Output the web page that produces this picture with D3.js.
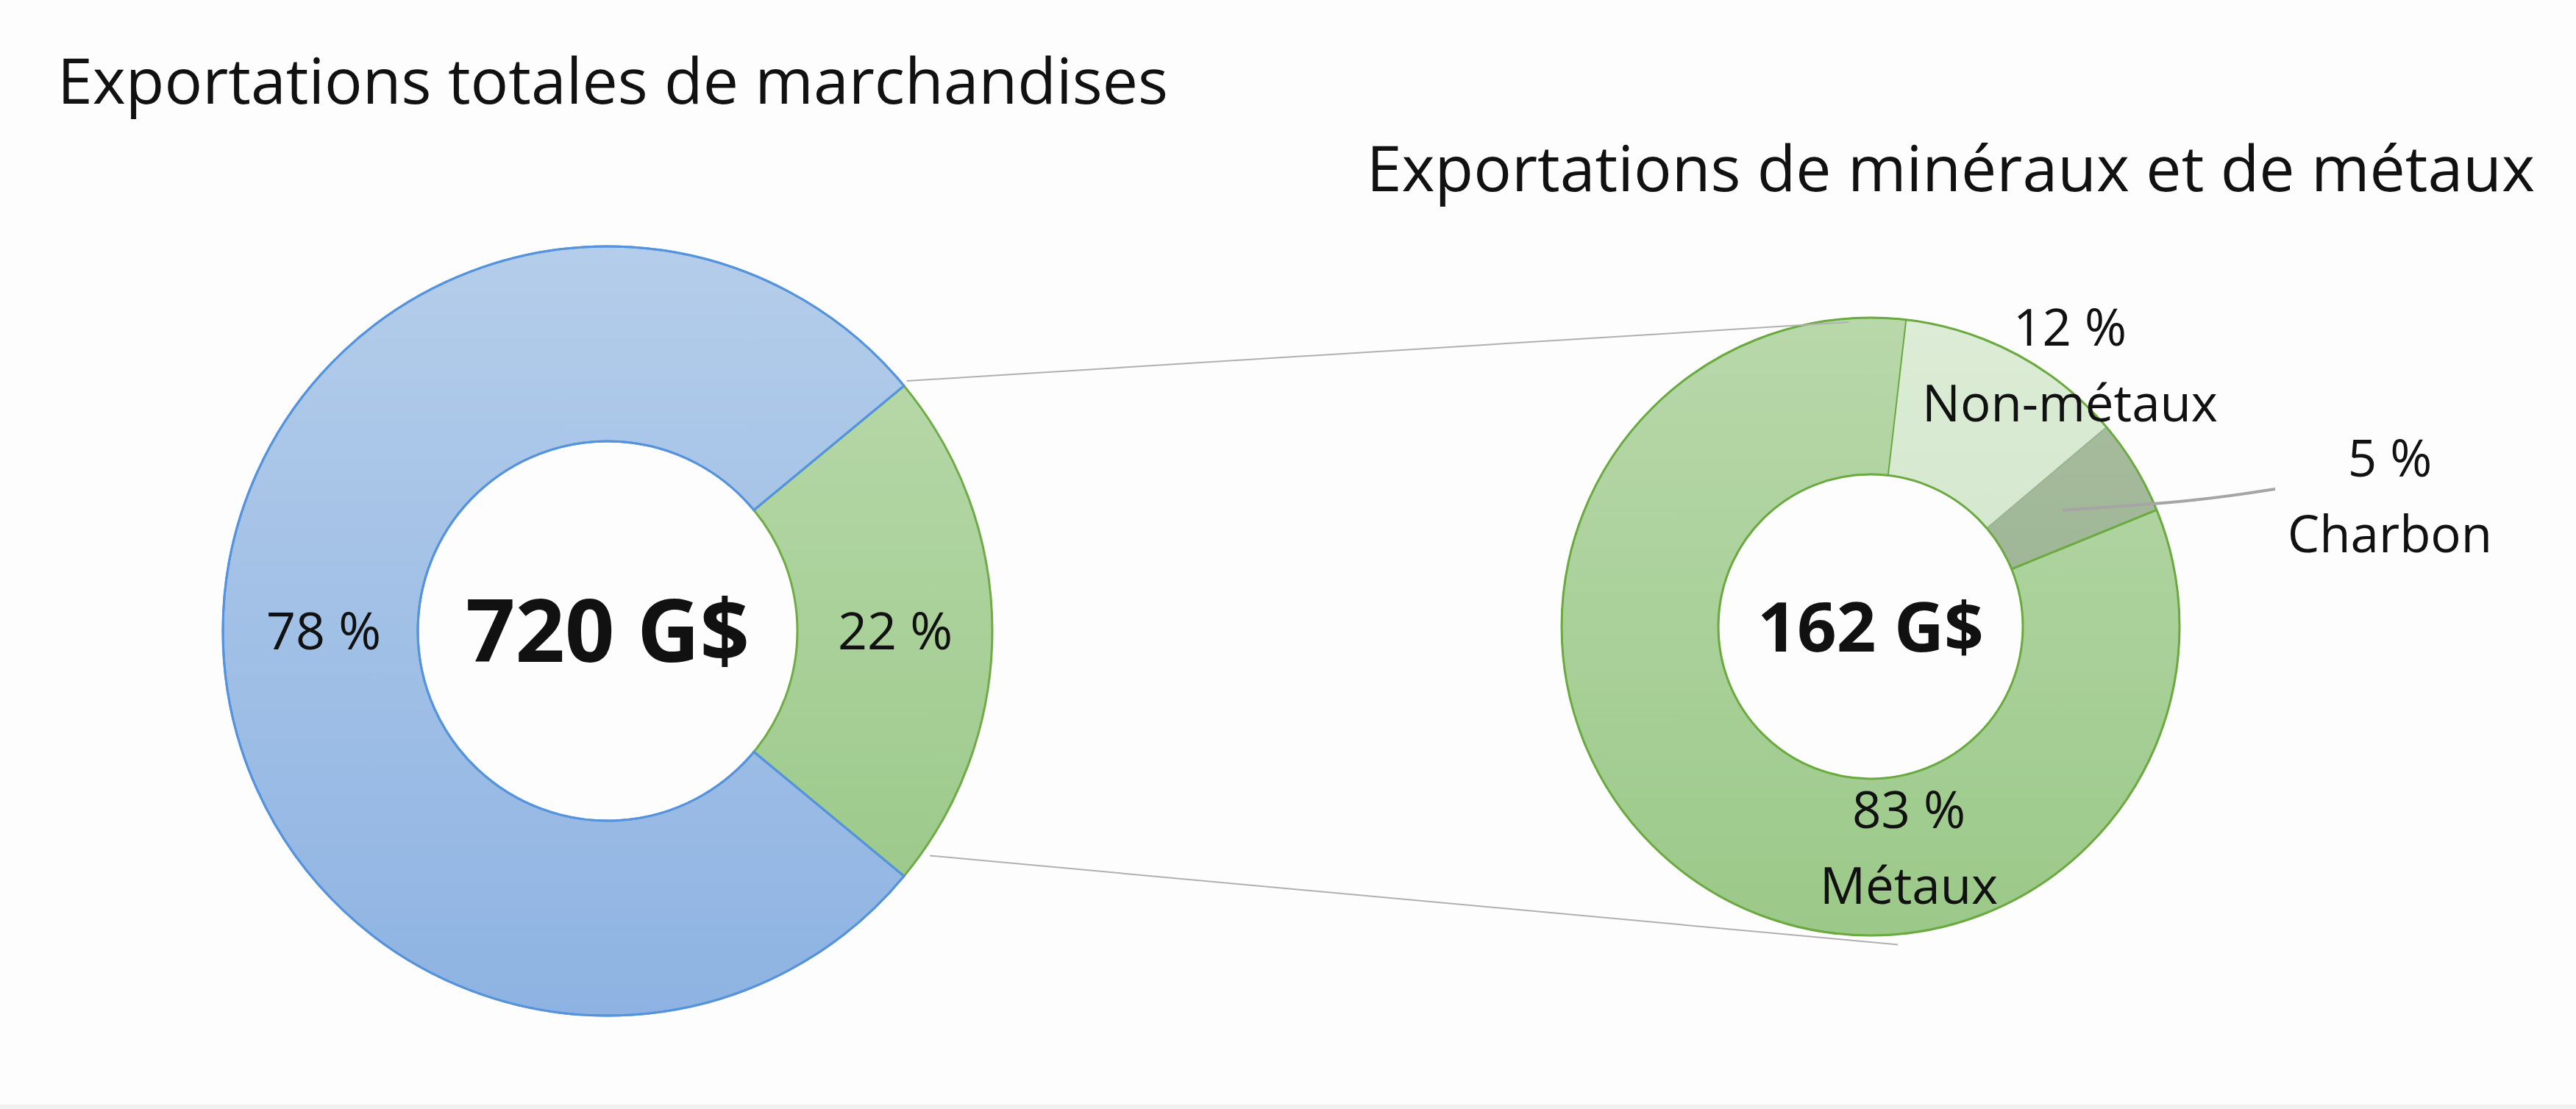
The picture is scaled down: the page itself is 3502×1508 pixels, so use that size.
<!DOCTYPE html>
<meta charset="utf-8" />
<head>
  <style>
    body { margin: 0; background: #fdfdfd; }
    text { font-family: "Open Sans", "Noto Sans", sans-serif; fill: #111; }
  </style>
  <script src="https://d3js.org/d3.v7.min.js"></script>
</head>
<body>
<svg width="3502" height="1508"></svg>
<script>
// left donut: total merchandise exports
const totalCats = ["Minéraux et métaux", "Autres"];
const totalVals = [22, 78];
const totalLabels = ["22 %", "78 %"];
const totalCenter = "720 G$";

// right donut: minerals and metals exports
const minCats = ["Non-métaux", "Charbon", "Métaux"];
const minVals = [12, 5, 83];
const minPct = ["12 %", "5 %", "83 %"];
const minCenter = "162 G$";

const titles = ["Exportations totales de marchandises", "Exportations de minéraux et de métaux"];

const svg = d3.select("svg");
const deg = Math.PI / 180;

// gradients
const defs = svg.append("defs");
function grad(id, y0, y1, c0, c1) {
  const g = defs.append("linearGradient").attr("id", id)
    .attr("gradientUnits", "userSpaceOnUse")
    .attr("x1", 0).attr("x2", 0).attr("y1", y0).attr("y2", y1);
  g.append("stop").attr("offset", 0).attr("stop-color", c0);
  g.append("stop").attr("offset", 1).attr("stop-color", c1);
}

// ---- left donut
const L = { x: 826, y: 858, R: 523, r: 258 };
grad("gBlue", -L.R, L.R, "#b4cdea", "#8eb3e2");
grad("gGreenL", -L.R, L.R, "#bcdbae", "#96c684");

// green slice centred on 3 o'clock
const pieL = d3.pie().sort(null).value(d => d)
  .startAngle((90 - totalVals[0] * 1.8) * deg)
  .endAngle((90 - totalVals[0] * 1.8 + 360) * deg);
const arcL = d3.arc().innerRadius(L.r).outerRadius(L.R);
const gL = svg.append("g").attr("transform", "translate(" + L.x + "," + L.y + ")");
const fillL = ["url(#gGreenL)", "url(#gBlue)"];
const strokeL = ["#6fab46", "#5594dc"];
gL.selectAll("path.slice").data(pieL(totalVals)).enter().append("path")
  .attr("class", "slice")
  .attr("d", arcL)
  .attr("fill", (d, i) => fillL[i])
  .attr("stroke", (d, i) => strokeL[i])
  .attr("stroke-width", 3);
// blue edge drawn on top
gL.append("path").attr("d", arcL(pieL(totalVals)[1]))
  .attr("fill", "none").attr("stroke", strokeL[1]).attr("stroke-width", 3);

gL.selectAll("text.pct").data(pieL(totalVals)).enter().append("text")
  .attr("class", "pct")
  .attr("x", (d, i) => i === 0 ? 391 : -386)
  .attr("y", 0)
  .attr("dy", "0.35em")
  .attr("text-anchor", "middle")
  .style("font-size", "70px")
  .text((d, i) => totalLabels[i]);
gL.append("text").attr("text-anchor", "middle").attr("dy", "0.36em")
  .style("font-size", "118px").style("font-weight", 700)
  .text(totalCenter);

// ---- right donut
const Rd = { x: 2543, y: 852, R: 420, r: 207 };
grad("gGreenR", -Rd.R, Rd.R, "#b8d8aa", "#9bc989");
grad("gLight", -Rd.R, Rd.R, "#dcecd6", "#c9e0c0");
grad("gCoal", -Rd.R, Rd.R, "#a9bfa0", "#93ab8a");
const pieR = d3.pie().sort(null).value(d => d)
  .startAngle(6.6 * deg).endAngle((6.6 + 360) * deg);
const arcR = d3.arc().innerRadius(Rd.r).outerRadius(Rd.R);
const gR = svg.append("g").attr("transform", "translate(" + Rd.x + "," + Rd.y + ")");
const fillR = ["url(#gLight)", "url(#gCoal)", "url(#gGreenR)"];
const strokeR = ["#c5dcbc", "#9bb592", "#6aaa3f"];
const arcsR = pieR(minVals);
gR.selectAll("path.slice").data(arcsR).enter().append("path")
  .attr("class", "slice")
  .attr("d", arcR)
  .attr("fill", (d, i) => fillR[i])
  .attr("stroke", (d, i) => strokeR[i])
  .attr("stroke-width", 2);
// green outer and inner outline
gR.append("circle").attr("r", Rd.R).attr("fill", "none").attr("stroke", "#6aaa3f").attr("stroke-width", 3);
gR.append("circle").attr("r", Rd.r).attr("fill", "none").attr("stroke", "#6aaa3f").attr("stroke-width", 3);
// separator between charbon and métaux
gR.append("path")
  .attr("d", d3.line()([
    [Rd.r * Math.sin(arcsR[2].startAngle), -Rd.r * Math.cos(arcsR[2].startAngle)],
    [Rd.R * Math.sin(arcsR[2].startAngle), -Rd.R * Math.cos(arcsR[2].startAngle)]
  ]))
  .attr("stroke", "#6aaa3f").attr("stroke-width", 3);

gR.append("text").attr("text-anchor", "middle").attr("dy", "0.36em")
  .style("font-size", "94px").style("font-weight", 700)
  .text(minCenter);

// labels (pct + name), offsets from centre
const lblPos = [[271, -382], [706, -204], [52, 274]];
minCats.forEach(function (c, i) {
  const t = gR.append("text").attr("text-anchor", "middle").style("font-size", "69px");
  t.append("tspan").attr("x", lblPos[i][0]).attr("y", lblPos[i][1]).text(minPct[i]);
  t.append("tspan").attr("x", lblPos[i][0]).attr("y", lblPos[i][1] + 103).text(c);
});

// charbon leader line
const midArc = d3.arc().innerRadius((Rd.r + Rd.R) / 2 - 8).outerRadius((Rd.r + Rd.R) / 2 - 8);
const cc = midArc.centroid(arcsR[1]);
gR.append("path")
  .attr("d", d3.line().curve(d3.curveBasis)([cc, [cc[0] + 180, cc[1] - 12], [lblPos[1][0] - 156, lblPos[1][1] + 17]]))
  .attr("fill", "none").attr("stroke", "#a5a5a5").attr("stroke-width", 4);

// connector lines between the donuts
function pt(c, rad, a) {
  return [c.x + rad * Math.sin(a * deg), c.y - rad * Math.cos(a * deg)];
}
svg.append("path")
  .attr("d", d3.line()([pt(L, L.R + 7, 50.1), pt(Rd, Rd.R - 5, -4.1)]))
  .attr("stroke", "#b0b0b0").attr("stroke-width", 2);
svg.append("path")
  .attr("d", d3.line()([pt(L, L.R + 11, 124.9), pt(Rd, Rd.R + 14, 175.1)]))
  .attr("stroke", "#b0b0b0").attr("stroke-width", 2);

// titles
svg.append("text").attr("x", 78).attr("y", 141).style("font-size", "86px").text(titles[0]);
svg.append("text").attr("x", 3446).attr("y", 260).attr("text-anchor", "end").style("font-size", "86px").text(titles[1]);

// faint line at the very bottom
svg.append("rect").attr("x", 0).attr("y", 1502).attr("width", 3502).attr("height", 6).attr("fill", "#f1f1f1");
</script>
</body>
